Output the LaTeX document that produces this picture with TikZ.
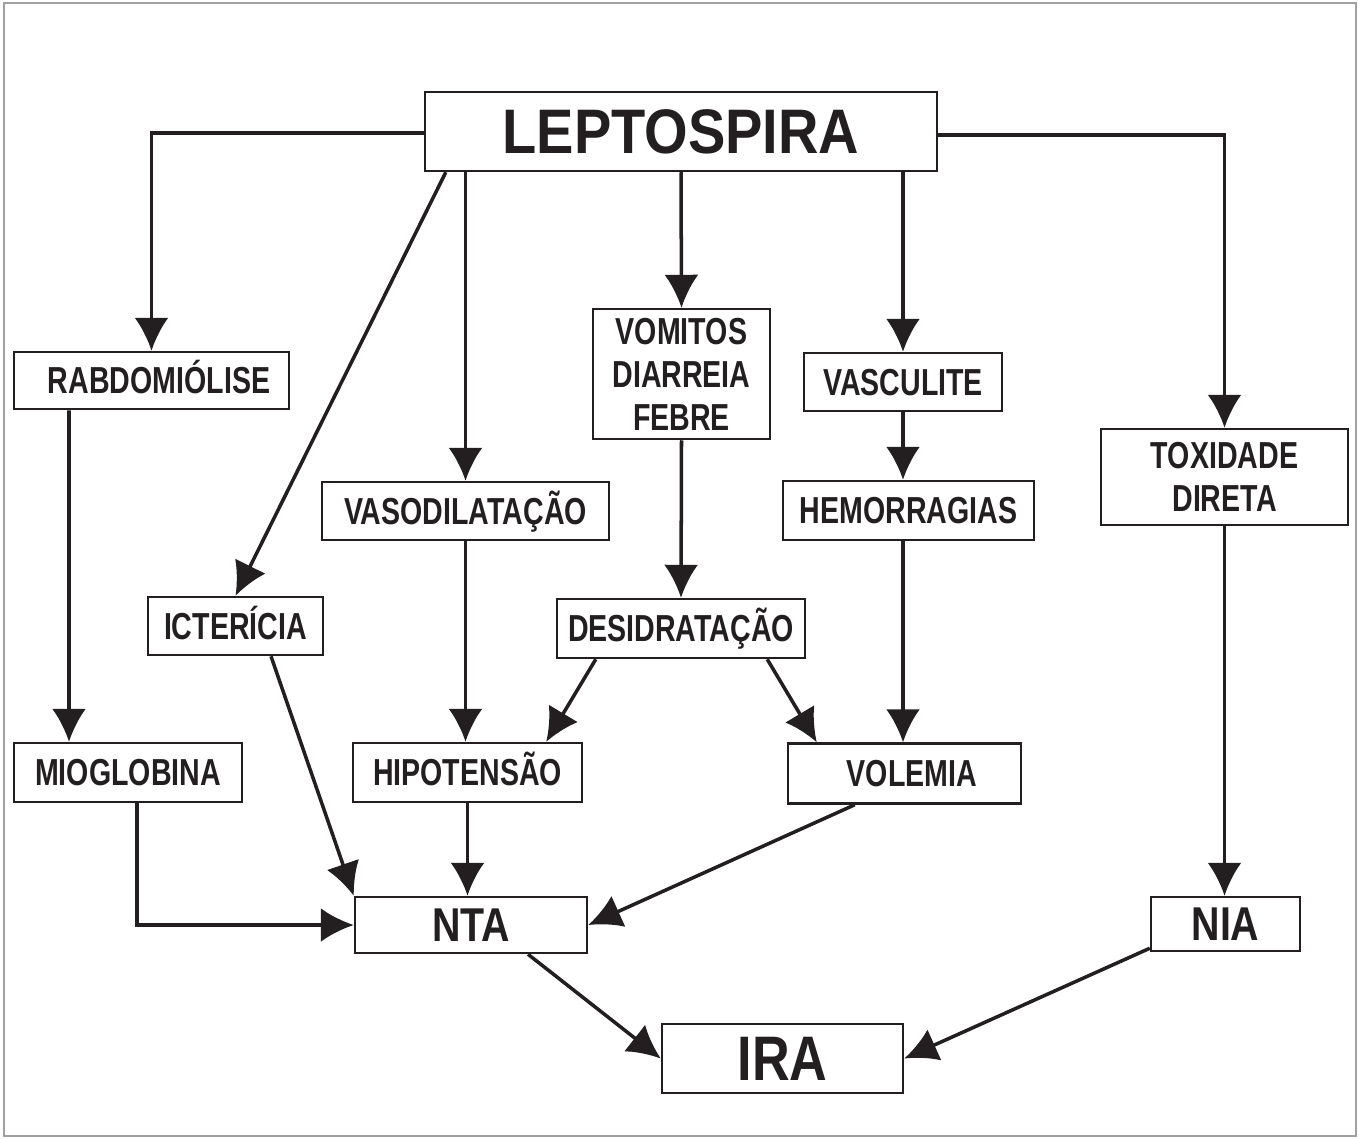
\documentclass[tikz,border=0pt]{standalone}
\usepackage{fontspec}
\usepackage{xcolor}
\usepackage{tikz}
\usetikzlibrary{arrows}
\usetikzlibrary{arrows.meta}

\newfontfamily\labfont[FakeStretch=0.76]{Liberation Sans}
\newfontfamily\bigfont[FakeStretch=0.83]{Liberation Sans}
\newfontfamily\topfont[FakeStretch=0.89]{Liberation Sans}
\definecolor{ink}{RGB}{35,31,32}
\definecolor{frame}{RGB}{160,160,160}

\begin{document}
\begin{tikzpicture}[
    x={(0.1mm,0)}, y={(0,-0.1mm)},
    >={Latex[length=3.3mm, width=3.4mm]},
    tallbox/.style={rectangle, draw=ink, line width=0.7pt, inner sep=0pt, align=center,
        text=ink, font=\labfont\bfseries\fontsize{10.7}{12.2}\selectfont},
    box/.style={tallbox, text height=2.7mm, text depth=0.1mm},
    bigbox/.style={box, text height=3.4mm, font=\bigfont\bfseries\fontsize{13.5}{15}\selectfont},
    link/.style={draw=ink, line width=1pt, ->}
]

% Frame :
\useasboundingbox (0,0) rectangle (1359,1138);
\draw[frame, line width=0.6pt] (4,3) rectangle (1356,1136);

% Nodes :
\node[bigbox, minimum width=51.2mm, minimum height=7.9mm, text height=4.5mm, font=\topfont\bfseries\fontsize{17.9}{20}\selectfont] (lep) at (681,131.5) {LEPTOSPIRA};
\node[box, minimum width=27.5mm, minimum height=5.7mm] (rab) at (151.5,380.5) {\hspace{1.5mm}RABDOMIÓLISE};
\node[box, minimum width=28.7mm, minimum height=5.8mm] (vaso) at (465.5,511) {VASODILATAÇÃO};
\node[tallbox, minimum width=17.7mm, minimum height=13mm] (vom) at (681.5,374) {VOMITOS\\DIARREIA\\FEBRE};
\node[box, minimum width=19.8mm, minimum height=5.8mm] (vasc) at (903,382) {VASCULITE};
\node[box, minimum width=25.1mm, minimum height=5.9mm] (hem) at (908.5,510.5) {HEMORRAGIAS};
\node[tallbox, minimum width=24.7mm, minimum height=9.6mm] (tox) at (1224.5,477) {TOXIDADE\\DIRETA};
\node[box, minimum width=17.5mm, minimum height=5.8mm] (ict) at (235.5,626) {ICTERÍCIA};
\node[box, minimum width=24.8mm, minimum height=5.9mm] (des) at (681,628.5) {DESIDRATAÇÃO};
\node[box, minimum width=22.8mm, minimum height=5.9mm] (mio) at (128,772.5) {MIOGLOBINA};
\node[box, minimum width=22.9mm, minimum height=5.9mm] (hip) at (467.5,772.5) {HIPOTENSÃO};
\node[box, minimum width=23.3mm, minimum height=6mm] (vol) at (904.5,773.5) {\hspace{1.5mm}VOLEMIA};
\node[bigbox, minimum width=23.2mm, minimum height=5.6mm] (nta) at (471,925) {NTA};
\node[bigbox, minimum width=14.9mm, minimum height=5.4mm] (nia) at (1225.5,924) {NIA};
\node[bigbox, minimum width=24.1mm, minimum height=6.9mm, text height=4.5mm, font=\bigfont\bfseries\fontsize{17.9}{20}\selectfont] (ira) at (782.5,1058.5) {IRA};

% Edges :
\draw[link] ([yshift=-0.15mm]lep.west) -| (rab.north);
\draw[link] ([xshift=2.2mm]lep.south west) -- (ict.north);
\draw[link] (vaso |- lep.south) -- (vaso.north);
\draw[link] (lep.south) -- (vom.north);
\draw[link] (vasc |- lep.south) -- (vasc.north);
\draw[link] ([yshift=-0.35mm]lep.east) -| (tox.north);

\draw[link] ([xshift=-8.25mm]rab.south) -- ([xshift=-5.9mm]mio.north);
\draw[link] (vasc.south) -- (vasc.south |- hem.north);
\draw[link] (vom.south) -- (des.north);
\draw[link] (vaso.south) -- (vaso.south |- hip.north);
\draw[link] (vasc.south |- hem.south) -- (vasc.south |- vol.north);

\draw[link] ([xshift=4mm]des.south west) -- ([xshift=-3.7mm]hip.north east);
\draw[link] ([xshift=-3.9mm]des.south east) -- ([xshift=3mm]vol.north west);

\draw[link] ([xshift=3.55mm]ict.south) -- (nta.north west);
\draw[link] (hip.south) -- (hip.south |- nta.north);
\draw[link] ([xshift=6.8mm]vol.south west) -- (nta.east);
\draw[link] ([xshift=0.9mm]mio.south) |- (nta.west);
\draw[link] (tox.south) -- (tox.south |- nia.north);

\draw[link] ([xshift=5.7mm]nta.south) -- (ira.west);
\draw[link] ([yshift=0.4mm]nia.south west) -- (ira.east);

\end{tikzpicture}
\end{document}
